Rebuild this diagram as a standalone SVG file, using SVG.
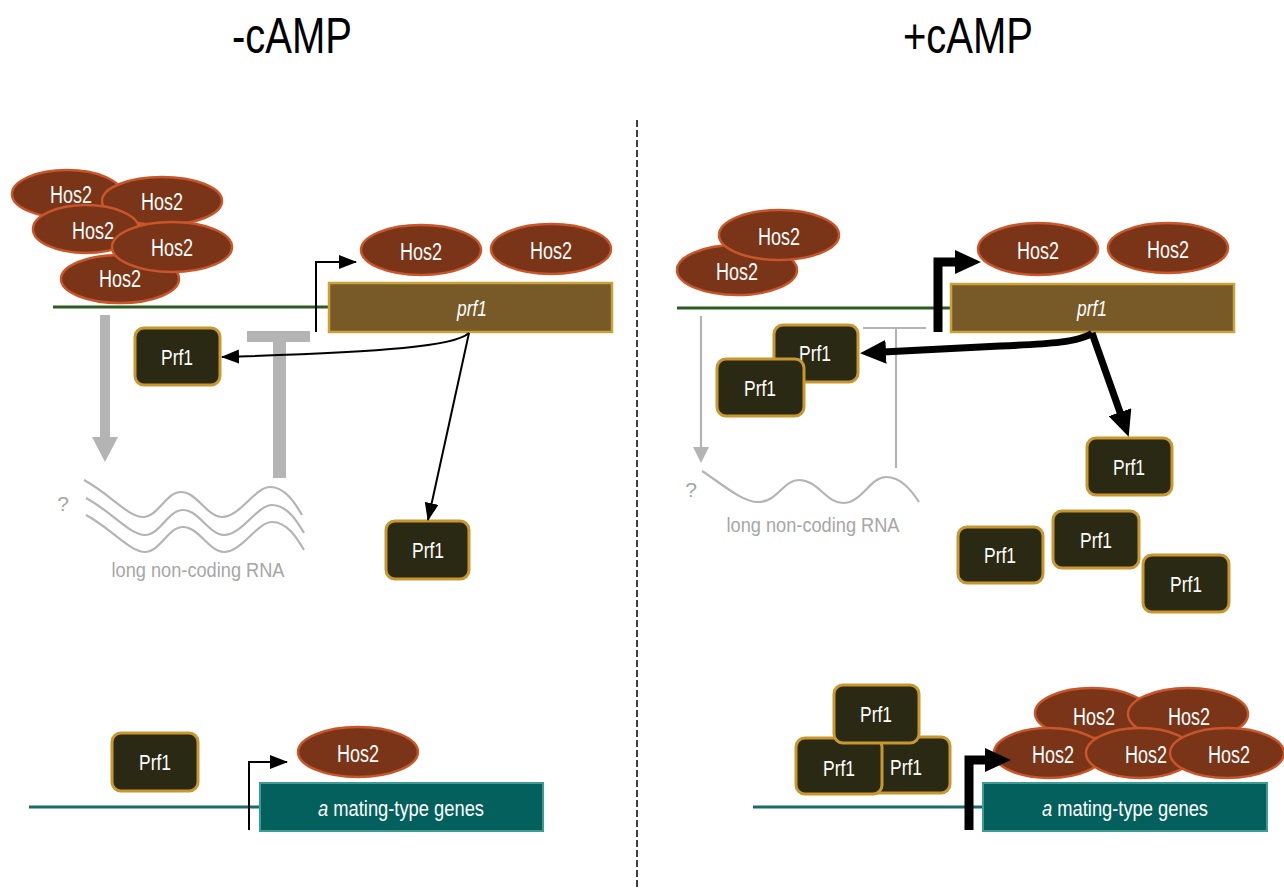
<svg xmlns="http://www.w3.org/2000/svg" xmlns:xlink="http://www.w3.org/1999/xlink" width="1284" height="888" viewBox="0 0 1284 888">
<style>
.hos{fill:#7a3418;stroke:#c8562a;stroke-width:2.5}
.prf{fill:#2a2914;stroke:#c8982f;stroke-width:3}
.bar{fill:#785a29;stroke:#c9a23a;stroke-width:2.5}
.mat{fill:#03605c;stroke:#3f9c92;stroke-width:2}
.t{font-family:"Liberation Sans",Arial,sans-serif;fill:#ffffff;font-size:22px;text-anchor:middle}
.h{font-size:23.5px}
.p{font-size:22.5px}
.g{font-family:"Liberation Sans",Arial,sans-serif;fill:#a6a6a6;font-size:21px;text-anchor:middle}
.title{font-family:"Liberation Sans",Arial,sans-serif;fill:#000;font-size:50px}
.thin{fill:none;stroke:#000;stroke-width:2}
.bold{fill:none;stroke:#000;stroke-width:7}
.bold9{fill:none;stroke:#000;stroke-width:9;stroke-linejoin:miter}
.gray{fill:none;stroke:#b4b4b4;stroke-width:2.2}
.grayf{fill:#b4b4b4}
.gline{stroke:#2d5a1f;stroke-width:3}
.tline{stroke:#1b6b68;stroke-width:3}
</style>
<defs>
<marker id="ah" markerUnits="userSpaceOnUse" markerWidth="18" markerHeight="14" refX="17" refY="7" orient="auto"><path d="M0,0 L18,7 L0,14 z" fill="#000"/></marker>
<marker id="ahb" markerUnits="userSpaceOnUse" markerWidth="26" markerHeight="24" refX="3" refY="12" orient="auto"><path d="M0,0 L26,12 L0,24 z" fill="#000"/></marker>
<path id="wave" d="M84,480 C110,494 128,517 143,517 C158,517 166,492 181,492 C197,492 207,517 222,517 C240,517 255,487 270,487 C285,487 295,503 302,515"/>
</defs>

<text class="title" x="232" y="53" textLength="120" lengthAdjust="spacingAndGlyphs">-cAMP</text>
<text class="title" x="903" y="53" textLength="130" lengthAdjust="spacingAndGlyphs">+cAMP</text>
<line x1="637" y1="120" x2="637" y2="888" stroke="#000" stroke-width="1.5" stroke-dasharray="7 3"/>

<!-- DNA lines -->
<g id="dna-lines">
<line class="gline" x1="53" y1="307" x2="330" y2="307"/>
<line class="gline" x1="677" y1="308" x2="952" y2="308"/>
<line class="tline" x1="29" y1="807" x2="261" y2="807"/>
<line class="tline" x1="753" y1="807" x2="984" y2="807"/>
</g>

<!-- left gray elements -->
<g id="lnc-left">
<rect class="grayf" x="100" y="315" width="10" height="123"/>
<polygon class="grayf" points="92,437 118,437 105,462"/>
<rect class="grayf" x="247" y="331" width="63" height="11"/>
<rect class="grayf" x="273" y="341" width="13" height="137"/>
<use xlink:href="#wave" href="#wave" class="gray"/>
<use xlink:href="#wave" href="#wave" class="gray" transform="translate(2,18)"/>
<use xlink:href="#wave" href="#wave" class="gray" transform="translate(2,35)"/>
<text class="g" x="63" y="511" font-size="26">?</text>
<text class="g" x="198" y="577" textLength="173" lengthAdjust="spacingAndGlyphs">long non-coding RNA</text>
</g>

<!-- right gray elements -->
<g id="lnc-right">
<line class="gray" x1="701" y1="316" x2="701" y2="449"/>
<polygon class="grayf" points="693,447 709,447 701,463"/>
<line class="gray" x1="863" y1="328" x2="926" y2="328" stroke-width="2.5"/>
<line class="gray" x1="896" y1="328" x2="896" y2="468" stroke-width="2.5"/>
<path class="gray" d="M702,471 C722,484 742,502 758,502 C778,502 783,480 799,480 C818,480 826,503 843,503 C862,503 870,477 886,477 C901,477 911,490 919,502"/>
<text class="g" x="691" y="497" font-size="26">?</text>
<text class="g" x="813" y="532" textLength="173" lengthAdjust="spacingAndGlyphs">long non-coding RNA</text>
</g>

<!-- genes -->
<g id="prf1-left"><rect class="bar" x="329" y="283" width="283" height="49"/><text class="t" x="472" y="316" font-style="italic" textLength="30" lengthAdjust="spacingAndGlyphs">prf1</text></g>
<g id="prf1-right"><rect class="bar" x="951" y="284" width="283" height="48"/><text class="t" x="1092" y="316" font-style="italic" textLength="30" lengthAdjust="spacingAndGlyphs">prf1</text></g>
<g id="mating-left"><rect class="mat" x="260" y="783" width="283" height="48"/><text class="t" x="401" y="816" textLength="166" lengthAdjust="spacingAndGlyphs"><tspan font-style="italic">a</tspan> mating-type genes</text></g>
<g id="mating-right"><rect class="mat" x="983" y="783" width="284" height="48"/><text class="t" x="1125" y="816" textLength="166" lengthAdjust="spacingAndGlyphs"><tspan font-style="italic">a</tspan> mating-type genes</text></g>

<!-- left Hos2 cluster -->
<g id="hos2-l1"><ellipse class="hos" cx="67" cy="194" rx="55" ry="24"/><text class="t h" x="71" y="203" textLength="42" lengthAdjust="spacingAndGlyphs">Hos2</text></g>
<g id="hos2-l2"><ellipse class="hos" cx="162" cy="201" rx="60" ry="24"/><text class="t h" x="162" y="210" textLength="42" lengthAdjust="spacingAndGlyphs">Hos2</text></g>
<g id="hos2-l3"><ellipse class="hos" cx="86" cy="229" rx="53" ry="24"/><text class="t h" x="93" y="239" textLength="42" lengthAdjust="spacingAndGlyphs">Hos2</text></g>
<g id="hos2-l5"><ellipse class="hos" cx="120" cy="279" rx="59" ry="24"/><text class="t h" x="120" y="287" textLength="42" lengthAdjust="spacingAndGlyphs">Hos2</text></g>
<g id="hos2-l4"><ellipse class="hos" cx="172" cy="247" rx="60" ry="25"/><text class="t h" x="172" y="256" textLength="42" lengthAdjust="spacingAndGlyphs">Hos2</text></g>
<g id="hos2-l6"><ellipse class="hos" cx="421" cy="250" rx="60" ry="25"/><text class="t h" x="421" y="260" textLength="42" lengthAdjust="spacingAndGlyphs">Hos2</text></g>
<g id="hos2-l7"><ellipse class="hos" cx="551" cy="249" rx="60" ry="25"/><text class="t h" x="551" y="259" textLength="42" lengthAdjust="spacingAndGlyphs">Hos2</text></g>
<g id="hos2-l8"><ellipse class="hos" cx="358" cy="752" rx="60" ry="25"/><text class="t h" x="358" y="762" textLength="42" lengthAdjust="spacingAndGlyphs">Hos2</text></g>

<!-- right Hos2 -->
<g id="hos2-r1"><ellipse class="hos" cx="737" cy="270" rx="60" ry="25"/><text class="t h" x="737" y="280" textLength="42" lengthAdjust="spacingAndGlyphs">Hos2</text></g>
<g id="hos2-r2"><ellipse class="hos" cx="779" cy="235" rx="60" ry="25"/><text class="t h" x="779" y="245" textLength="42" lengthAdjust="spacingAndGlyphs">Hos2</text></g>
<g id="hos2-r3"><ellipse class="hos" cx="1038" cy="249" rx="60" ry="26"/><text class="t h" x="1038" y="259" textLength="42" lengthAdjust="spacingAndGlyphs">Hos2</text></g>
<g id="hos2-r4"><ellipse class="hos" cx="1168" cy="248" rx="60" ry="25"/><text class="t h" x="1168" y="258" textLength="42" lengthAdjust="spacingAndGlyphs">Hos2</text></g>
<g id="hos2-r5"><ellipse class="hos" cx="1092" cy="713" rx="57" ry="25"/><text class="t h" x="1094" y="725" textLength="42" lengthAdjust="spacingAndGlyphs">Hos2</text></g>
<g id="hos2-r6"><ellipse class="hos" cx="1188" cy="714" rx="60" ry="26"/><text class="t h" x="1189" y="725" textLength="42" lengthAdjust="spacingAndGlyphs">Hos2</text></g>
<g id="hos2-r7"><ellipse class="hos" cx="1049" cy="753" rx="55" ry="25"/><text class="t h" x="1053" y="763" textLength="42" lengthAdjust="spacingAndGlyphs">Hos2</text></g>
<g id="hos2-r8"><ellipse class="hos" cx="1140" cy="753" rx="54" ry="25"/><text class="t h" x="1146" y="763" textLength="42" lengthAdjust="spacingAndGlyphs">Hos2</text></g>
<g id="hos2-r9"><ellipse class="hos" cx="1227" cy="753" rx="57" ry="25"/><text class="t h" x="1229" y="763" textLength="42" lengthAdjust="spacingAndGlyphs">Hos2</text></g>

<!-- Prf1 boxes -->
<g id="prf1p-l1"><rect class="prf" x="135" y="328" width="85" height="57" rx="9"/><text class="t p" x="177" y="365" textLength="32" lengthAdjust="spacingAndGlyphs">Prf1</text></g>
<g id="prf1p-l2"><rect class="prf" x="386" y="521" width="83" height="58" rx="9"/><text class="t p" x="428" y="558" textLength="32" lengthAdjust="spacingAndGlyphs">Prf1</text></g>
<g id="prf1p-l3"><rect class="prf" x="112" y="733" width="86" height="58" rx="9"/><text class="t p" x="155" y="770" textLength="32" lengthAdjust="spacingAndGlyphs">Prf1</text></g>
<g id="prf1p-r1"><rect class="prf" x="774" y="325" width="84" height="57" rx="9"/><text class="t p" x="815" y="361" textLength="32" lengthAdjust="spacingAndGlyphs">Prf1</text></g>
<g id="prf1p-r2"><rect class="prf" x="717" y="359" width="87" height="57" rx="9"/><text class="t p" x="760" y="396" textLength="32" lengthAdjust="spacingAndGlyphs">Prf1</text></g>
<g id="prf1p-r3"><rect class="prf" x="1087" y="438" width="85" height="57" rx="9"/><text class="t p" x="1129" y="475" textLength="32" lengthAdjust="spacingAndGlyphs">Prf1</text></g>
<g id="prf1p-r4"><rect class="prf" x="958" y="527" width="85" height="56" rx="9"/><text class="t p" x="1000" y="563" textLength="32" lengthAdjust="spacingAndGlyphs">Prf1</text></g>
<g id="prf1p-r5"><rect class="prf" x="1053" y="511" width="86" height="57" rx="9"/><text class="t p" x="1096" y="548" textLength="32" lengthAdjust="spacingAndGlyphs">Prf1</text></g>
<g id="prf1p-r6"><rect class="prf" x="1143" y="555" width="86" height="57" rx="9"/><text class="t p" x="1186" y="592" textLength="32" lengthAdjust="spacingAndGlyphs">Prf1</text></g>
<g id="prf1p-r7"><rect class="prf" x="865" y="737" width="85" height="56" rx="9"/><text class="t p" x="906" y="775" textLength="32" lengthAdjust="spacingAndGlyphs">Prf1</text></g>
<g id="prf1p-r8"><rect class="prf" x="796" y="738" width="86" height="56" rx="9"/><text class="t p" x="839" y="776" textLength="32" lengthAdjust="spacingAndGlyphs">Prf1</text></g>
<g id="prf1p-r9"><rect class="prf" x="834" y="685" width="85" height="58" rx="9"/><text class="t p" x="876" y="722" textLength="32" lengthAdjust="spacingAndGlyphs">Prf1</text></g>

<!-- connectors -->
<g id="connectors">
<path class="thin" d="M316,332 V262 H356" marker-end="url(#ah)"/>
<path class="thin" d="M249,830 V762 H287" marker-end="url(#ah)"/>
<path class="thin" d="M469,333 C455,346 390,352 222,357" marker-end="url(#ah)"/>
<path class="thin" d="M469,333 L428,520" marker-end="url(#ah)"/>
<path class="bold9" d="M938,332 V262 H958" marker-end="url(#ahb)"/>
<path class="bold9" d="M969,830 V760 H988" marker-end="url(#ahb)"/>
<path class="bold" d="M1092,333 C1080,342 1050,344 1000,346 L883,352" marker-end="url(#ahb)"/>
<path class="bold" d="M1092,333 L1121,415" marker-end="url(#ahb)"/>
</g>
</svg>
